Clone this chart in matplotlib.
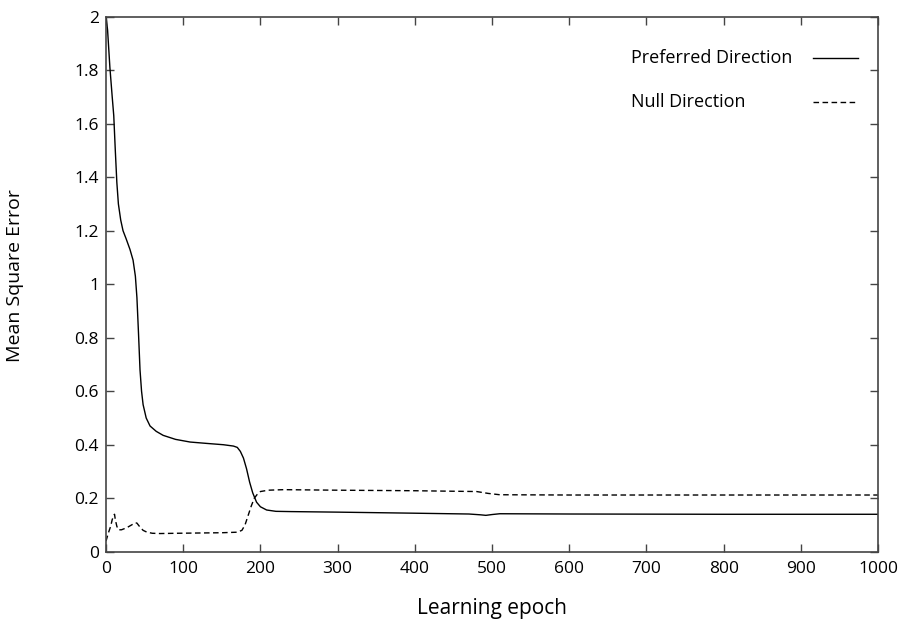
import numpy as np
import matplotlib
matplotlib.use('Agg')
import matplotlib.pyplot as plt

matplotlib.rc('font', family=['Open Sans', 'DejaVu Sans'], size=12)

# values
pref_epoch = [0, 2, 5, 8, 10, 12, 14, 16, 19, 22, 26, 31, 35, 38, 40, 42, 44, 46,
              48, 52, 57, 65, 74, 90, 109, 130, 152, 165, 170, 174, 178, 182,
              186, 190, 195, 200, 208, 220, 240, 300, 400, 470, 485, 492, 500,
              510, 600, 800, 1000]
pref_mse = [2.00, 1.95, 1.81, 1.70, 1.63, 1.50, 1.38, 1.30, 1.24, 1.20, 1.17,
            1.13, 1.09, 1.03, 0.95, 0.82, 0.68, 0.60, 0.55, 0.50, 0.47, 0.45,
            0.435, 0.42, 0.41, 0.405, 0.40, 0.395, 0.39, 0.375, 0.35, 0.31,
            0.26, 0.22, 0.185, 0.168, 0.156, 0.151, 0.150, 0.148, 0.144,
            0.141, 0.138, 0.136, 0.139, 0.142, 0.141, 0.140, 0.140]

null_epoch = [0, 3, 6, 8, 10, 11, 12, 14, 16, 20, 27, 33, 38, 40, 44, 48, 53, 60,
              70, 92, 120, 150, 170, 176, 180, 184, 188, 192, 196, 200, 210,
              230, 300, 400, 480, 495, 510, 600, 800, 1000]
null_mse = [0.04, 0.07, 0.095, 0.12, 0.135, 0.14, 0.12, 0.095, 0.082, 0.082,
            0.09, 0.10, 0.108, 0.107, 0.092, 0.08, 0.073, 0.069, 0.068, 0.069,
            0.070, 0.071, 0.073, 0.080, 0.10, 0.135, 0.17, 0.20, 0.215, 0.225,
            0.230, 0.232, 0.230, 0.228, 0.225, 0.218, 0.213, 0.212, 0.212, 0.212]

labels = ['Preferred Direction', 'Null Direction']
dash = (0, (4, 2.5))

fig = plt.figure(figsize=(9.04, 6.23), dpi=100)
ax = fig.add_axes([0.1173, 0.1144, 0.854, 0.8588])

ax.plot(pref_epoch, pref_mse, color='black', linewidth=1.0)
ax.plot(null_epoch, null_mse, color='black', linewidth=1.0, linestyle=dash)

ax.set_xlim(0, 1000)
ax.set_ylim(0, 2)
ax.set_xticks(np.arange(0, 1001, 100))
ax.set_yticks(np.arange(0, 2.01, 0.2))
ax.set_yticklabels(['0', '0.2', '0.4', '0.6', '0.8', '1', '1.2', '1.4',
                    '1.6', '1.8', '2'])
ax.tick_params(direction='in', top=True, right=True, length=6, width=1,
               labelsize=12.5, color='#444444')
ax.tick_params(axis='x', pad=7)
ax.tick_params(axis='y', pad=5)
for sp in ax.spines.values():
    sp.set_color('#444444')
    sp.set_linewidth(1.2)

ax.set_xlabel('Learning epoch', fontsize=15)
ax.xaxis.set_label_coords(0.5, -0.086)
ax.set_ylabel('Mean Square Error', fontsize=14)
ax.yaxis.set_label_coords(-0.106, 0.517)

# legend: text left, line sample on the right
for i, (lab, ls) in enumerate(zip(labels, ['-', dash])):
    yy = 0.923 - i * 0.0825
    ax.text(0.680, yy, lab, transform=ax.transAxes, fontsize=13,
            ha='left', va='center')
    ax.plot([0.916, 0.974], [yy, yy], transform=ax.transAxes,
            color='black', linewidth=1.0, linestyle=ls)

plt.savefig('out.png', dpi=100)
